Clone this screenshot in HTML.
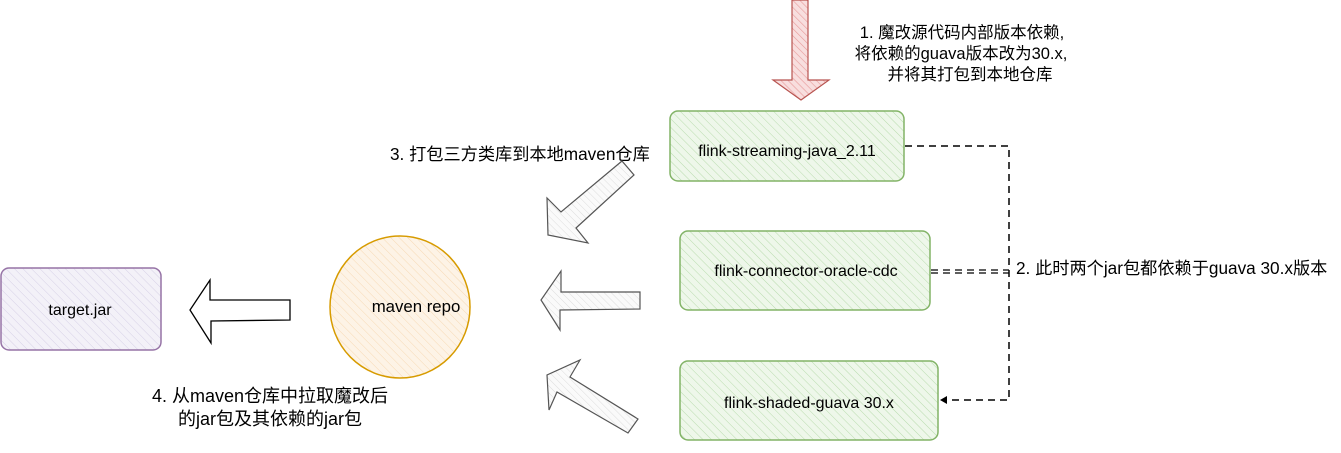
<!DOCTYPE html>
<html><head><meta charset="utf-8"><style>
html,body{margin:0;padding:0;background:#fff;width:1341px;height:453px;overflow:hidden}
svg{display:block}
text{font-family:"Liberation Sans","Noto Sans CJK SC",sans-serif;fill:#000}
</style></head><body>
<svg width="1341" height="453" viewBox="0 0 1341 453" xmlns="http://www.w3.org/2000/svg">
<defs>
<pattern id="hg" width="6" height="6" patternUnits="userSpaceOnUse" patternTransform="rotate(-45)"><rect width="6" height="6" fill="#eef7ea"/><line x1="0" y1="0" x2="0" y2="6" stroke="#b9dcae" stroke-width="1"/></pattern>
<pattern id="hp" width="6" height="6" patternUnits="userSpaceOnUse" patternTransform="rotate(-45)"><rect width="6" height="6" fill="#f3f1f8"/><line x1="0" y1="0" x2="0" y2="6" stroke="#d6d0e6" stroke-width="1"/></pattern>
<pattern id="ho" width="6" height="6" patternUnits="userSpaceOnUse" patternTransform="rotate(-45)"><rect width="6" height="6" fill="#fdf3e6"/><line x1="0" y1="0" x2="0" y2="6" stroke="#f6d9b4" stroke-width="1"/></pattern>
<pattern id="hr" width="5" height="5" patternUnits="userSpaceOnUse" patternTransform="rotate(-45)"><rect width="5" height="5" fill="#f8dede"/><line x1="0" y1="0" x2="0" y2="5" stroke="#e89a9a" stroke-width="1.2"/></pattern>
<pattern id="hw" width="5" height="5" patternUnits="userSpaceOnUse" patternTransform="rotate(-45)"><rect width="5" height="5" fill="#fafafa"/><line x1="0" y1="0" x2="0" y2="5" stroke="#ddd" stroke-width="1"/></pattern>
</defs>

<polygon points="792,0 808,0 808,80 829,80 801,100 773,80 792,80" fill="url(#hr)" stroke="#b85450" stroke-width="1.2"/>

<rect x="670" y="111" width="234" height="70" rx="8" fill="url(#hg)" stroke="#82b366" stroke-width="1.5"/>
<text x="787" y="156" text-anchor="middle" font-size="16">flink-streaming-java_2.11</text>
<rect x="680" y="231" width="250" height="79" rx="8" fill="url(#hg)" stroke="#82b366" stroke-width="1.5"/>
<text x="806" y="276" text-anchor="middle" font-size="16">flink-connector-oracle-cdc</text>
<rect x="680" y="361" width="258" height="79" rx="8" fill="url(#hg)" stroke="#82b366" stroke-width="1.5"/>
<text x="809" y="408" text-anchor="middle" font-size="16">flink-shaded-guava 30.x</text>

<path d="M905,146 H1009 V400 H945" fill="none" stroke="#000" stroke-width="1.5" stroke-dasharray="7,5"/>
<polygon points="940,400 947,396 947,404" fill="#000"/>
<path d="M931,270 H1009" fill="none" stroke="#000" stroke-width="1.2" stroke-dasharray="7,5"/>
<path d="M931,273 H1009" fill="none" stroke="#000" stroke-width="1.2" stroke-dasharray="7,5"/>

<text x="962" y="38" text-anchor="middle" font-size="16.5">1. 魔改源代码内部版本依赖,</text>
<text x="961" y="59" text-anchor="middle" font-size="16.5">将依赖的guava版本改为30.x,</text>
<text x="970" y="80" text-anchor="middle" font-size="16.5">并将其打包到本地仓库</text>
<text x="1016" y="274" font-size="17.2">2. 此时两个jar包都依赖于guava 30.x版本</text>
<text x="390" y="160" font-size="17.2">3. 打包三方类库到本地maven仓库</text>
<text x="270" y="402" text-anchor="middle" font-size="18">4. 从maven仓库中拉取魔改后</text>
<text x="270" y="425" text-anchor="middle" font-size="18">的jar包及其依赖的jar包</text>

<polygon points="622,161 634,175 576,228 588,243 548,235 547,198 561,212" fill="url(#hw)" stroke="#555" stroke-width="1.2"/>
<polygon points="640,292 640,309 560,310 560,330 541,300 561,271 561,292" fill="url(#hw)" stroke="#555" stroke-width="1.2"/>
<polygon points="638,419 628,433 557,392 549,410 547,375 580,360 570,377" fill="url(#hw)" stroke="#555" stroke-width="1.2"/>

<ellipse cx="400" cy="307" rx="70" ry="71" fill="url(#ho)" stroke="#d79b00" stroke-width="1.5"/>
<text x="416" y="312" text-anchor="middle" font-size="16.8">maven repo</text>

<polygon points="290,300 290,320 211,321 211,343 190,310 210,280 210,300" fill="#fff" stroke="#000" stroke-width="1.3"/>

<rect x="1" y="268" width="160" height="82" rx="8" fill="url(#hp)" stroke="#9673a6" stroke-width="1.5"/>
<text x="80" y="315" text-anchor="middle" font-size="16">target.jar</text>
</svg>
</body></html>
